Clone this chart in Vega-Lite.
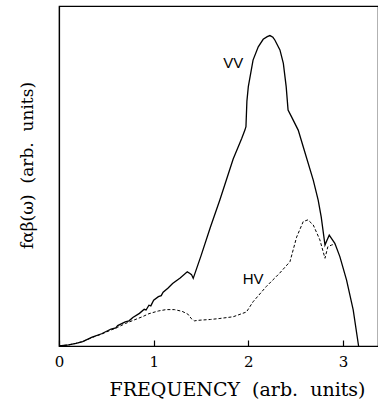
{
  "$schema": "https://vega.github.io/schema/vega-lite/v6.json",
  "width": 319,
  "height": 340,
  "autosize": {"type": "none"},
  "padding": {"left": 59, "top": 6, "right": 0, "bottom": 56},
  "background": "white",
  "config": {
    "view": {"stroke": "black", "strokeWidth": 1.2},
    "font": "DejaVu Serif"
  },
  "datasets": {
    "vv": [
      {"x": 0, "y": 0}, {"x": 0.1, "y": 0.003}, {"x": 0.18, "y": 0.008}, {"x": 0.25, "y": 0.013},
      {"x": 0.35, "y": 0.026}, {"x": 0.45, "y": 0.036}, {"x": 0.55, "y": 0.05}, {"x": 0.6, "y": 0.053},
      {"x": 0.62, "y": 0.06}, {"x": 0.7, "y": 0.071}, {"x": 0.74, "y": 0.074}, {"x": 0.78, "y": 0.084},
      {"x": 0.85, "y": 0.096}, {"x": 0.9, "y": 0.108}, {"x": 0.92, "y": 0.106}, {"x": 0.95, "y": 0.12},
      {"x": 0.97, "y": 0.118}, {"x": 1.0, "y": 0.135}, {"x": 1.05, "y": 0.145}, {"x": 1.08, "y": 0.148},
      {"x": 1.1, "y": 0.158}, {"x": 1.15, "y": 0.17}, {"x": 1.2, "y": 0.184}, {"x": 1.28, "y": 0.2},
      {"x": 1.355, "y": 0.218}, {"x": 1.38, "y": 0.214}, {"x": 1.4, "y": 0.21}, {"x": 1.418, "y": 0.199},
      {"x": 1.5, "y": 0.265}, {"x": 1.6, "y": 0.35}, {"x": 1.7, "y": 0.43}, {"x": 1.84, "y": 0.55},
      {"x": 1.93, "y": 0.61}, {"x": 1.964, "y": 0.635}, {"x": 1.975, "y": 0.645}, {"x": 1.985, "y": 0.72},
      {"x": 2.0, "y": 0.763}, {"x": 2.05, "y": 0.841}, {"x": 2.105, "y": 0.88}, {"x": 2.157, "y": 0.902},
      {"x": 2.2, "y": 0.91}, {"x": 2.228, "y": 0.913}, {"x": 2.26, "y": 0.908}, {"x": 2.28, "y": 0.9},
      {"x": 2.334, "y": 0.871}, {"x": 2.37, "y": 0.831}, {"x": 2.4, "y": 0.763}, {"x": 2.42, "y": 0.694},
      {"x": 2.457, "y": 0.674}, {"x": 2.527, "y": 0.635}, {"x": 2.58, "y": 0.586}, {"x": 2.686, "y": 0.488},
      {"x": 2.738, "y": 0.429}, {"x": 2.77, "y": 0.38}, {"x": 2.81, "y": 0.297}, {"x": 2.83, "y": 0.31},
      {"x": 2.855, "y": 0.326}, {"x": 2.88, "y": 0.316}, {"x": 2.914, "y": 0.302}, {"x": 2.967, "y": 0.263},
      {"x": 3.038, "y": 0.194}, {"x": 3.108, "y": 0.106}, {"x": 3.165, "y": 0}
    ],
    "hv": [
      {"x": 0, "y": 0}, {"x": 0.1, "y": 0.003}, {"x": 0.18, "y": 0.008}, {"x": 0.25, "y": 0.013},
      {"x": 0.35, "y": 0.025}, {"x": 0.45, "y": 0.035}, {"x": 0.55, "y": 0.047}, {"x": 0.62, "y": 0.055},
      {"x": 0.7, "y": 0.066}, {"x": 0.78, "y": 0.075}, {"x": 0.88, "y": 0.086}, {"x": 0.95, "y": 0.095},
      {"x": 1.05, "y": 0.103}, {"x": 1.13, "y": 0.107}, {"x": 1.22, "y": 0.107}, {"x": 1.3, "y": 0.102},
      {"x": 1.36, "y": 0.094}, {"x": 1.4, "y": 0.08}, {"x": 1.43, "y": 0.074}, {"x": 1.49, "y": 0.076},
      {"x": 1.6, "y": 0.078}, {"x": 1.7, "y": 0.081}, {"x": 1.84, "y": 0.086}, {"x": 1.98, "y": 0.1},
      {"x": 2.05, "y": 0.13}, {"x": 2.19, "y": 0.175}, {"x": 2.33, "y": 0.214}, {"x": 2.44, "y": 0.248},
      {"x": 2.51, "y": 0.32}, {"x": 2.58, "y": 0.366}, {"x": 2.63, "y": 0.371}, {"x": 2.686, "y": 0.356},
      {"x": 2.756, "y": 0.312}, {"x": 2.81, "y": 0.258}, {"x": 2.84, "y": 0.292}, {"x": 2.88, "y": 0.297},
      {"x": 2.914, "y": 0.3}
    ],
    "labels": [
      {"x": 1.84, "y": 0.832, "t": "VV"},
      {"x": 2.05, "y": 0.197, "t": "HV"}
    ]
  },
  "encoding": {
    "x": {
      "field": "x", "type": "quantitative",
      "scale": {"domain": [0, 3.37], "nice": false, "zero": false},
      "axis": {
        "values": [0, 1, 2, 3], "format": "d", "grid": false,
        "domainColor": "black", "domainWidth": 1.2,
        "tickColor": "black", "tickSize": -6, "tickWidth": 1.2,
        "labelFont": "DejaVu Serif", "labelFontSize": 15, "labelColor": "black",
        "labelPadding": 14, "labelFlush": false,
        "title": "FREQUENCY\u00a0 (arb.\u00a0 units)", "titleFont": "DejaVu Serif",
        "titleFontSize": 19, "titleFontWeight": "normal", "titleColor": "black",
        "titleX": 178, "titleY": 43, "titleAlign": "center", "titleBaseline": "middle"
      }
    },
    "y": {
      "field": "y", "type": "quantitative",
      "scale": {"domain": [0, 1], "nice": false},
      "axis": {
        "ticks": false, "labels": false, "grid": false,
        "domainColor": "black", "domainWidth": 1.2,
        "title": "fαβ(ω)\u00a0 (arb.\u00a0 units)", "titleFont": "DejaVu Serif",
        "titleFontSize": 17, "titleFontWeight": "normal", "titleColor": "black",
        "titleX": -32, "titleY": 159, "titleAngle": 270, "titleAlign": "center", "titleBaseline": "middle"
      }
    }
  },
  "layer": [
    {
      "data": {"name": "vv"},
      "mark": {"type": "line", "color": "black", "strokeWidth": 1.3, "clip": true}
    },
    {
      "data": {"name": "hv"},
      "mark": {"type": "line", "color": "black", "strokeWidth": 1, "strokeDash": [3, 2], "clip": true}
    },
    {
      "data": {"name": "labels"},
      "mark": {"type": "text", "font": "Liberation Sans", "fontSize": 15, "color": "black", "align": "center", "baseline": "middle"},
      "encoding": {"text": {"field": "t"}}
    }
  ]
}
